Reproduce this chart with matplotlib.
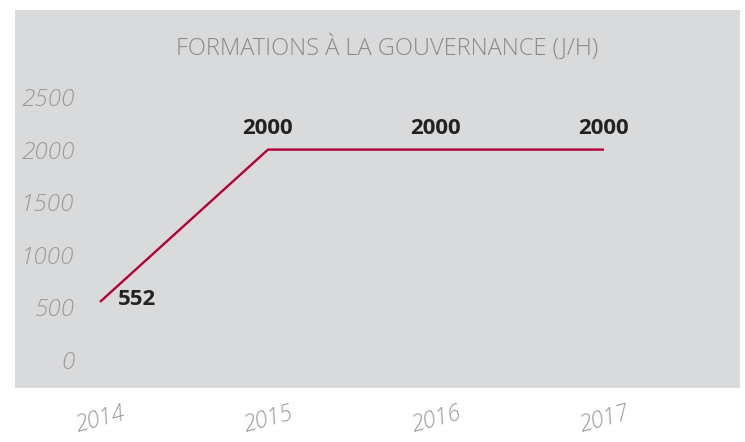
import matplotlib
matplotlib.use("Agg")
from matplotlib import pyplot as plt

years = ["2014", "2015", "2016", "2017"]
values = [552, 2000, 2000, 2000]
yticks = [0, 500, 1000, 1500, 2000, 2500]

plt.rcParams['font.family'] = ['Open Sans', 'DejaVu Sans']

fig = plt.figure(figsize=(7.45, 4.42), dpi=100)
ax = fig.add_axes([15 / 745, 54 / 442, 725 / 745, 378 / 442])
ax.set_facecolor('#d9dadc')

x = list(range(len(years)))
ax.plot(x, values, color='#b4003a', linewidth=1.7, solid_capstyle='butt')

# labels des valeurs
for i, v in zip(x, values):
    if i == 0:
        ax.annotate(str(v), (i, v), xytext=(27, 2), textcoords='offset points',
                    ha='center', va='center', fontsize=16, fontweight='bold', color='#222222')
    else:
        ax.annotate(str(v), (i, v), xytext=(0, 15), textcoords='offset points',
                    ha='center', va='center', fontsize=16, fontweight='bold', color='#222222')

ax.set_xlim(-0.506, 3.81)
ax.set_ylim(-266, 3327)
ax.set_yticks(yticks)
ax.set_yticklabels([str(t) for t in yticks], fontsize=17.5, style='italic',
                   fontweight='light', color='#9a9a9a')
ax.tick_params(axis='y', length=0, pad=-43)
ax.set_xticks(x)
ax.set_xticklabels(years, fontsize=16.5, style='italic', fontweight='light',
                   color='#9a9a9a', rotation=15)
ax.tick_params(axis='x', length=0, pad=10)
for s in ax.spines.values():
    s.set_visible(False)

ax.text(0.513, 0.9, 'FORMATIONS À LA GOUVERNANCE (J/H)', transform=ax.transAxes,
        ha='center', va='center', fontsize=17, fontweight='light', color='#8a8a8a')

fig.savefig('out.png', dpi=100)
